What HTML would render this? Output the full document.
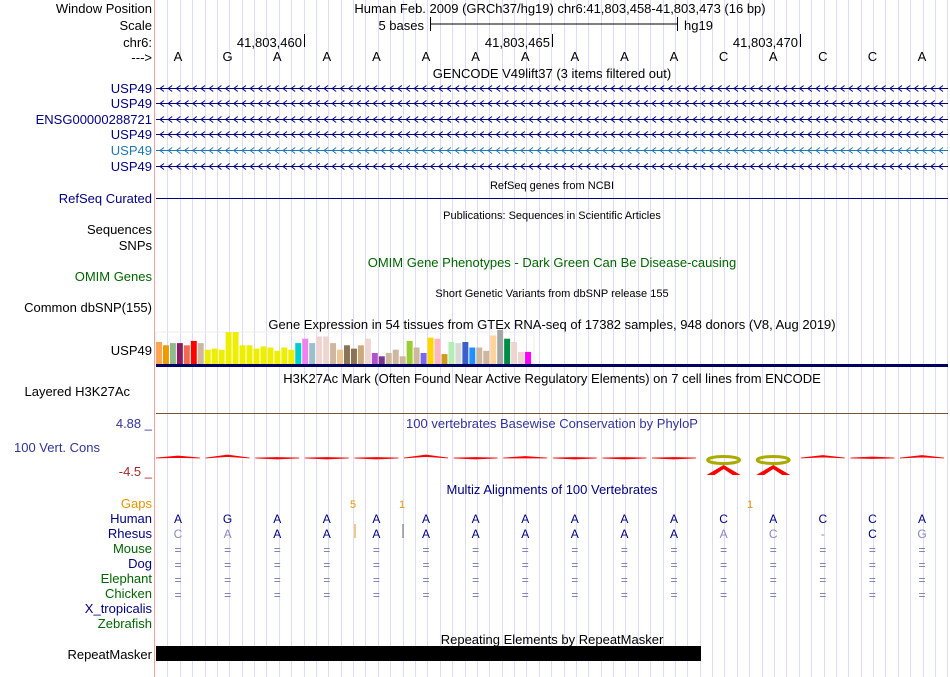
<!DOCTYPE html>
<html><head><meta charset="utf-8"><style>
body{margin:0;background:#fff;width:950px;height:677px;overflow:hidden}
svg{display:block;font-family:"Liberation Sans",sans-serif}
</style></head><body>
<svg id="c" width="950" height="677" xmlns="http://www.w3.org/2000/svg">
<g id="grid"></g>
<line x1="154.5" y1="0" x2="154.5" y2="677" stroke="#f4a0a0"/>
<g font-size="13" text-anchor="end">
<text x="152" y="13">Window Position</text>
<text x="152" y="30">Scale</text>
<text x="152" y="47">chr6:</text>
<text x="152" y="62">---&gt;</text>
<text x="152" y="93" fill="#000080">USP49</text>
<text x="152" y="108" fill="#000080">USP49</text>
<text x="152" y="124" fill="#000080">ENSG00000288721</text>
<text x="152" y="139" fill="#000080">USP49</text>
<text x="152" y="155" fill="#1f77b4">USP49</text>
<text x="152" y="171" fill="#000080">USP49</text>
<text x="152" y="203" fill="#000080">RefSeq Curated</text>
<text x="152" y="234">Sequences</text>
<text x="152" y="250">SNPs</text>
<text x="152" y="281" fill="#006400">OMIM Genes</text>
<text x="152" y="312">Common dbSNP(155)</text>
<text x="152" y="355">USP49</text>
<text x="130" y="396">Layered H3K27Ac</text>
<text x="152" y="428" fill="#333399">4.88 _</text>
<text x="100" y="452" fill="#333399">100 Vert. Cons</text>
<text x="152" y="476" fill="#a52a2a">-4.5 _</text>
<text x="152" y="508" fill="#e69500">Gaps</text>
<text x="152" y="523" fill="#000080">Human</text>
<text x="152" y="538" fill="#000080">Rhesus</text>
<text x="152" y="553" fill="#006400">Mouse</text>
<text x="152" y="568" fill="#000080">Dog</text>
<text x="152" y="583" fill="#006400">Elephant</text>
<text x="152" y="598" fill="#006400">Chicken</text>
<text x="152" y="613" fill="#000080">X_tropicalis</text>
<text x="152" y="628" fill="#006400">Zebrafish</text>
<text x="152" y="659">RepeatMasker</text>
</g>
<g font-size="13" text-anchor="middle">
<text x="560" y="13">Human Feb. 2009 (GRCh37/hg19)   chr6:41,803,458-41,803,473 (16 bp)</text>
<text x="552" y="78">GENCODE V49lift37 (3 items filtered out)</text>
<text x="552" y="189" font-size="11">RefSeq genes from NCBI</text>
<text x="552" y="219" font-size="11">Publications: Sequences in Scientific Articles</text>
<text x="552" y="267" fill="#006400">OMIM Gene Phenotypes - Dark Green Can Be Disease-causing</text>
<text x="552" y="297" font-size="11">Short Genetic Variants from dbSNP release 155</text>
<text x="552" y="329">Gene Expression in 54 tissues from GTEx RNA-seq of 17382 samples, 948 donors (V8, Aug 2019)</text>
<text x="552" y="383">H3K27Ac Mark (Often Found Near Active Regulatory Elements) on 7 cell lines from ENCODE</text>
<text x="552" y="428" fill="#333399">100 vertebrates Basewise Conservation by PhyloP</text>
<text x="552" y="494" fill="#000080">Multiz Alignments of 100 Vertebrates</text>
<text x="552" y="644">Repeating Elements by RepeatMasker</text>
</g>
<g font-size="13">
<text x="424" y="30" text-anchor="end">5 bases</text>
<line x1="430" y1="24" x2="677" y2="24" stroke="#000"/>
<line x1="430.5" y1="17" x2="430.5" y2="31" stroke="#000"/>
<line x1="677.5" y1="17" x2="677.5" y2="31" stroke="#000"/>
<text x="684" y="30">hg19</text>
<text x="302" y="47" text-anchor="end">41,803,460</text><line x1="304.5" y1="34" x2="304.5" y2="47" stroke="#000"/>
<text x="550" y="47" text-anchor="end">41,803,465</text><line x1="552.5" y1="34" x2="552.5" y2="47" stroke="#000"/>
<text x="798" y="47" text-anchor="end">41,803,470</text><line x1="800.5" y1="34" x2="800.5" y2="47" stroke="#000"/>
</g>
<g id="genes"></g>
<line x1="156" y1="198.5" x2="948" y2="198.5" stroke="#000080"/>
<rect x="156" y="332" width="378" height="33" fill="none" stroke="#eee"/>
<g id="gtex"></g>
<rect x="156" y="364" width="792" height="3" fill="#000060"/>
<line x1="156" y1="413.5" x2="948" y2="413.5" stroke="#7a5230"/>
<g id="cons"></g>
<g id="seq" font-size="12" text-anchor="middle"></g>
<g font-size="11" fill="#e69500" text-anchor="middle">
<text x="353" y="508">5</text><text x="402" y="508">1</text><text x="750" y="508">1</text>
<line x1="355" y1="524" x2="355" y2="538" stroke="#e69500"/><line x1="403" y1="524" x2="403" y2="538" stroke="#666"/>
</g>
<rect x="156" y="646" width="545" height="15" fill="#000"/>
<script>
const bases=["A","G","A","A","A","A","A","A","A","A","A","C","A","C","C","A"];
const rhesus=["C","A","A","A","A","A","A","A","A","A","A","A","C","-","C","G"];
const rhesusDim=[1,1,0,0,0,0,0,0,0,0,0,1,1,1,0,1];
const gtexValues=[20,17,19,19,17,21,19,13,14,13,29,29,17,17,14,16,15,12,15,13,19,23,19,25,25,19,13,17,14,17,23,10,7,10,13,7,21,15,10,24,23,9,20,19,20,15,15,12,26,31,23,20,11,11];
const gtexColors=["#FFA54F","#EE9A00","#8FBC8F","#8B1C62","#EE6A50","#FF0000","#CDB79E","#EEEE00","#EEEE00","#EEEE00","#EEEE00","#EEEE00","#EEEE00","#EEEE00","#EEEE00","#EEEE00","#EEEE00","#EEEE00","#EEEE00","#EEEE00","#00CDCD","#EE82EE","#9AC0CD","#EED5D2","#EED5D2","#CDB79E","#EEC591","#8B7355","#8B7355","#CDAA7D","#EED5D2","#B452CD","#7A378B","#CDB79E","#CDB79E","#CDB79E","#9ACD32","#CDB79E","#7A67EE","#FFD700","#FFB6C1","#CD9B1D","#B4EEB4","#D9D9D9","#3A5FCD","#1E90FF","#CDB79E","#CDB79E","#FFD39B","#A6A6A6","#008B45","#EED5D2","#EED5D2","#FF00FF"];
const phylop=[-0.4,-0.6,-0.1,-0.1,-0.1,-0.6,-0.1,-0.3,-0.1,-0.1,0,-2.5,-2.5,-0.5,-0.2,-0.5];
const NS="http://www.w3.org/2000/svg";
const x0=153.2,bw=49.6;
const bx=i=>x0+bw*(i+0.5);
function mk(t,a,p){const e=document.createElementNS(NS,t);for(const k in a)e.setAttribute(k,a[k]);p.appendChild(e);return e;}
const grid=document.getElementById('grid');
for(let k=1;k<65;k++){const x=Math.round(155+k*12.38)+0.5;if(x>950)break;const l=mk('line',{x1:x,y1:0,x2:x,y2:677,stroke:'#dcdcf4'},grid);

}
const genes=document.getElementById('genes');
[[88,'#000080'],[103,'#000080'],[119,'#000080'],[134,'#000080'],[150,'#1f77b4'],[166,'#000080']].forEach(([y,c])=>{
 let d=`M156,${y+0.5} L948,${y+0.5}`;
 for(let x=160;x<946;x+=8.2){d+=` M${(x+4).toFixed(1)},${y-2.5} L${x.toFixed(1)},${y+0.5} L${(x+4).toFixed(1)},${y+3.5}`;}
 const p=mk('path',{d:d,fill:'none',stroke:c,'stroke-width':1},genes);
 
 
});
const seq=document.getElementById('seq');
bases.forEach((b,i)=>{
 const t=mk('text',{x:bx(i),y:61,'font-size':13},seq);t.textContent=b;
 
 
 const h=mk('text',{x:bx(i),y:523,fill:'#000080'},seq);h.textContent=b;
 
 
 const r=mk('text',{x:bx(i),y:538,fill:rhesusDim[i]?'#8888bb':'#000080'},seq);r.textContent=rhesus[i];
 
 
 for(let s=0;s<4;s++){const q=mk('text',{x:bx(i),y:554+15*s,fill:'#7777aa'},seq);q.textContent='=';
 
 }
});
const gt=document.getElementById('gtex');
const gw=376/54,gy=364,gs=1.1;
gtexValues.forEach((v,i)=>{const r=mk('rect',{x:156+i*gw,y:gy-v*gs,width:gw-1,height:v*gs,fill:gtexColors[i]},gt);

});
const cons=document.getElementById('cons');
const zeroY=458,sc=5;
phylop.forEach((v,i)=>{const c=bx(i);
 if(v<-2){
  const e=mk('ellipse',{cx:c,cy:zeroY+2,rx:16,ry:3.5,fill:'none',stroke:'#aa0','stroke-width':3},cons);
  
  
  const a=mk('path',{d:`M${c-17},${zeroY+17} L${c},${zeroY+7} L${c+17},${zeroY+17} L${c+9},${zeroY+17} L${c},${zeroY+11} L${c-9},${zeroY+17}Z`,fill:'#f00'},cons);
  
  
 } else {
  const h=Math.max(0.5,-v*sc);
  const p=mk('path',{d:`M${c-22},${zeroY} L${c},${zeroY-h} L${c+22},${zeroY} L${c},${zeroY-h+1.5}Z`,fill:'#f00',stroke:'#f00','stroke-width':0.8},cons);
  
  
 }
});
</script>
</svg>
</body></html>
